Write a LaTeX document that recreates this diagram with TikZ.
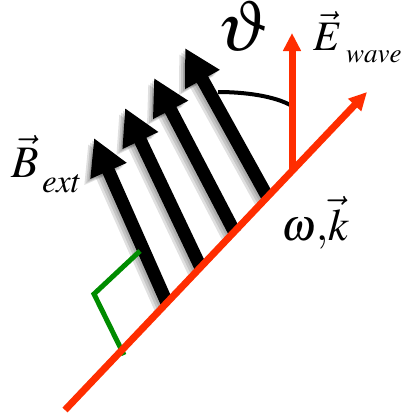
\documentclass[tikz,border=0pt]{standalone}
\usepackage{mathptmx}
\usepackage{graphicx}
\usetikzlibrary{arrows.meta}
\definecolor{wavered}{RGB}{255,45,0}
\definecolor{anglegreen}{RGB}{0,140,0}
\newcommand\mybig[2]{\scalebox{#1}{$#2$}}
\tikzset{
  barrow/.style={line width=13pt,-{Triangle[length=36pt,width=37pt]}},
  bshadow/.style={barrow,black,opacity=0.12},
  rarrow/.style={wavered,line width=7pt,-{Triangle[length=18pt,width=17pt]}},
  lbl/.style={inner sep=0pt,anchor=base west},
}
\begin{document}
\begin{tikzpicture}[x=1pt,y=-1pt]
\useasboundingbox (0,0) rectangle (401,416);
% points
\coordinate (k0) at (65,410);
\coordinate (k1) at (367,92);
\coordinate (b1) at (167,303); \coordinate (t1) at (94,138);
\coordinate (b2) at (201,268); \coordinate (t2) at (125,108);
\coordinate (b3) at (235,233); \coordinate (t3) at (154,78);
\coordinate (b4) at (267,196); \coordinate (t4) at (185,48);
\coordinate (e0) at (292,172); \coordinate (e1) at (292,33);
\coordinate (g1) at (140,251); \coordinate (gc) at (94,294); \coordinate (g2) at (124,355);
\coordinate (a0) at (218,92); \coordinate (a1) at (292,106);
% shadows
\foreach \i in {1,2,3,4}{
  \foreach \d in {2,4,6}{
    \draw[bshadow,transform canvas={shift={(-\d pt,-\d pt)}}] (b\i) -- (t\i);
  }
}
% B arrows
\foreach \i in {1,2,3,4}{
  \draw[barrow] (b\i) -- (t\i);
}
% angle arc
\draw[line width=4pt] (a0) .. controls (245,92) and (275,96) .. (a1);
% green right angle
\draw[anglegreen,line width=5pt] (g1) -- (gc) -- (g2);
% red arrows
\draw[rarrow] (e0) -- (e1);
\draw[rarrow] (k0) -- (k1);
% labels
\node[lbl] (th) at (216,50) {\mybig{7.2}{\vartheta}};
\node[lbl] (Evec) at (313,50) {\mybig{4.2}{\vec{E}}};
\node[lbl] (Ew) at (346,62) {\mybig{2.7}{wave}};
\node[lbl] (B) at (11,177) {\mybig{4.5}{\vec{B}}};
\node[lbl] (Bx) at (42,192) {\mybig{3.3}{ext}};
\node[lbl] (wk) at (281,240) {\mybig{4.5}{\omega,\!\vec{k}}};
\end{tikzpicture}
\end{document}
